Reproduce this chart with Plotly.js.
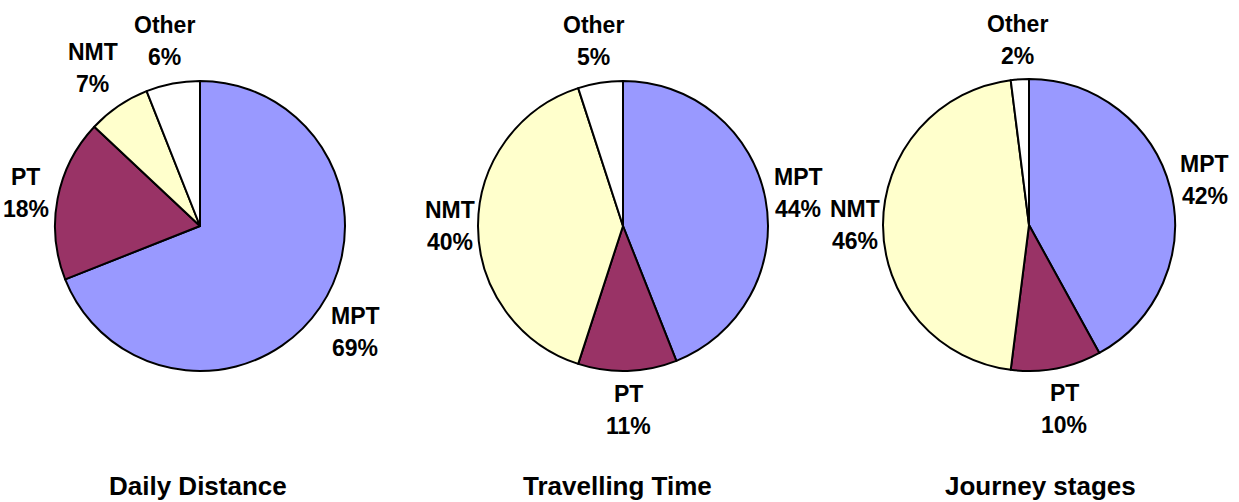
<!DOCTYPE html>
<html>
<head>
<meta charset="utf-8">
<script src="https://cdn.plot.ly/plotly-3.0.1.min.js"></script>
<style>
  html, body { margin: 0; padding: 0; background: #ffffff; }
  #chart { width: 1239px; height: 502px; }
</style>
</head>
<body>
<div id="chart"></div>
<script>
// Modal split shares (%), slices ordered clockwise from 12 o'clock
const categories = ['MPT', 'PT', 'NMT', 'Other'];
const dailyDistance = [69, 18, 7, 6];
const travellingTime = [44, 11, 40, 5];
const journeyStages = [42, 10, 46, 2];
const chartTitles = ['Daily Distance', 'Travelling Time', 'Journey stages'];

const sliceColors = ['#9999FF', '#993366', '#FFFFCC', '#FFFFFF'];
const W = 1239, H = 502;
const FONT = 'Liberation Sans, Arial, Helvetica, sans-serif';
const LABEL_SIZE = 23;
const TITLE_SIZE = 26;

// Pixel boxes for each pie (left, right, top, bottom) and title centre
const panels = [
  { values: dailyDistance,  title: chartTitles[0], box: [55, 345, 81, 371],  titleX: 198 },
  { values: travellingTime, title: chartTitles[1], box: [478, 768, 81, 371], titleX: 617 },
  { values: journeyStages,  title: chartTitles[2], box: [883, 1175, 79, 371], titleX: 1040 }
];

const ctx = document.createElement('canvas').getContext('2d');
ctx.font = 'bold ' + LABEL_SIZE + 'px "Liberation Sans", Arial, sans-serif';
const textWidth = s => ctx.measureText(s).width;

const traces = [];
const annotations = [];

panels.forEach(p => {
  const [l, r, t, b] = p.box;
  traces.push({
    type: 'pie',
    labels: categories,
    values: p.values,
    sort: false,
    direction: 'clockwise',
    rotation: 0,
    textinfo: 'none',
    hoverinfo: 'label+percent',
    showlegend: false,
    marker: { colors: sliceColors, line: { color: '#000000', width: 2 } },
    domain: { x: [l / W, r / W], y: [1 - b / H, 1 - t / H] }
  });

  // Outside labels: placed along each slice's mid-angle
  const cx = (l + r) / 2, cy = (t + b) / 2;
  const R = Math.min(r - l, b - t) / 2;
  const total = p.values.reduce((a, v) => a + v, 0);
  let acc = 0;
  p.values.forEach((v, i) => {
    const mid = (acc + v / 2) / total * 2 * Math.PI;
    acc += v;
    const ux = Math.sin(mid), uy = -Math.cos(mid);
    const name = categories[i];
    const pct = Math.round(v / total * 100) + '%';
    const w = Math.max(textWidth(name), textWidth(pct));
    const h = 52;
    const gap = 3 + 9 * Math.abs(uy);
    const d = R + gap + Math.abs(ux) * w / 2 + Math.abs(uy) * h / 2;
    const lx = cx + d * ux, ly = cy + d * uy;
    [[name, ly - 16], [pct, ly + 16]].forEach(([txt, yy]) => {
      annotations.push({
        xref: 'paper', yref: 'paper',
        x: lx / W, y: 1 - yy / H,
        xanchor: 'center', yanchor: 'middle',
        text: txt, showarrow: false,
        font: { family: FONT, size: LABEL_SIZE, color: '#000000', weight: 'bold' }
      });
    });
  });

  annotations.push({
    xref: 'paper', yref: 'paper',
    x: p.titleX / W, y: 1 - 486 / H,
    xanchor: 'center', yanchor: 'middle',
    text: p.title, showarrow: false,
    font: { family: FONT, size: TITLE_SIZE, color: '#000000', weight: 'bold' }
  });
});

const layout = {
  width: W, height: H,
  margin: { l: 0, r: 0, t: 0, b: 0 },
  paper_bgcolor: '#ffffff',
  plot_bgcolor: '#ffffff',
  showlegend: false,
  annotations: annotations
};

Plotly.newPlot('chart', traces, layout, { displayModeBar: false, staticPlot: true });
</script>
</body>
</html>
